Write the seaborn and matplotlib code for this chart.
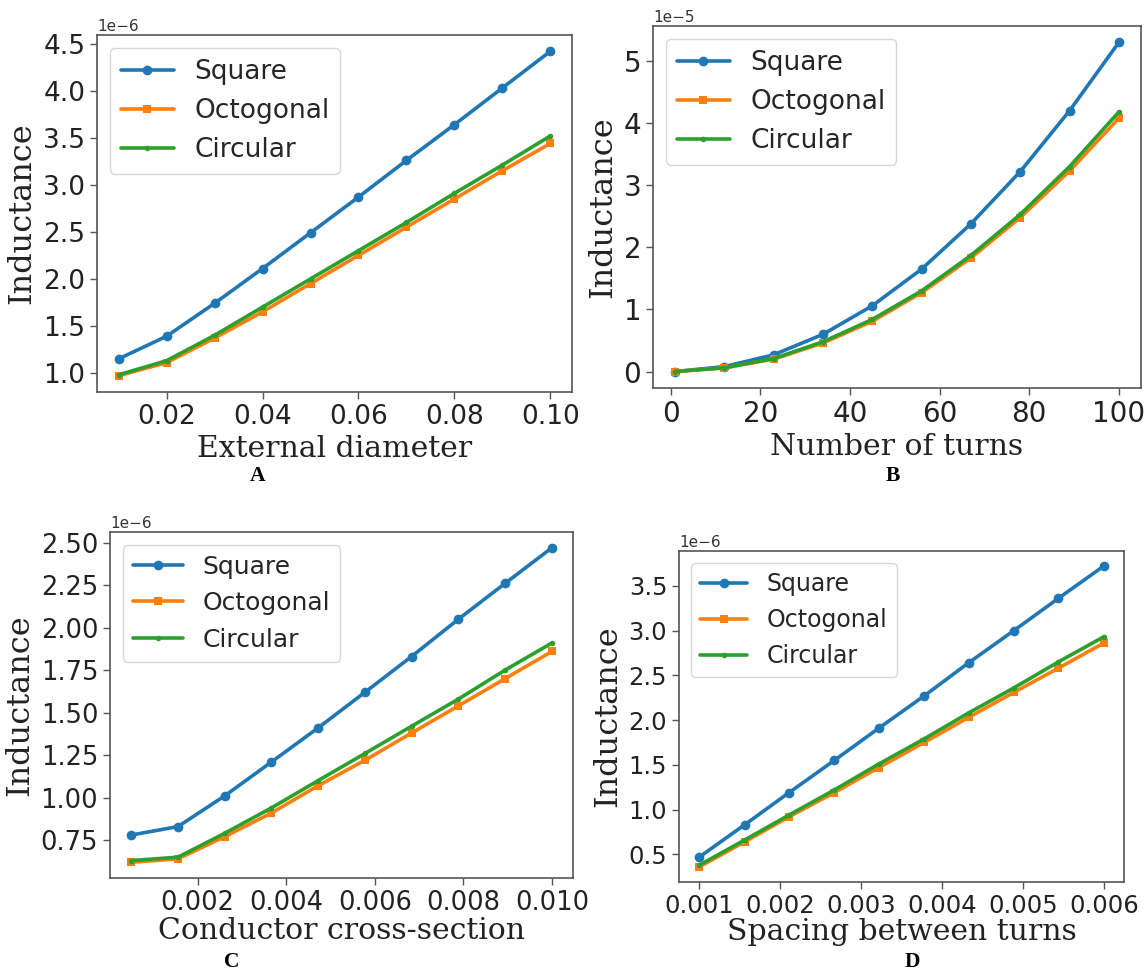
import matplotlib
matplotlib.use("Agg")
import matplotlib.pyplot as plt
from matplotlib.ticker import MultipleLocator
import seaborn as sns
import numpy as np

# ---------------- data (inductance in units of the offset) ----------------
series_names = ["Square", "Octogonal", "Circular"]

# Panel A: external diameter
a_x = [0.01, 0.02, 0.03, 0.04, 0.05, 0.06, 0.07, 0.08, 0.09, 0.10]
a_square = [1.15, 1.39, 1.74, 2.11, 2.49, 2.87, 3.26, 3.64, 4.03, 4.42]
a_octo = [0.97, 1.11, 1.37, 1.65, 1.95, 2.25, 2.55, 2.85, 3.15, 3.44]
a_circ = [0.98, 1.13, 1.40, 1.70, 2.00, 2.30, 2.60, 2.91, 3.21, 3.52]
a_scale = 1e-6

# Panel B: number of turns
b_x = [1, 12, 23, 34, 45, 56, 67, 78, 89, 100]
b_square = [0.00, 0.08, 0.27, 0.60, 1.06, 1.65, 2.38, 3.22, 4.20, 5.30]
b_octo = [0.00, 0.06, 0.20, 0.46, 0.81, 1.27, 1.83, 2.48, 3.23, 4.08]
b_circ = [0.00, 0.06, 0.21, 0.48, 0.84, 1.30, 1.87, 2.53, 3.30, 4.18]
b_scale = 1e-5

# Panel C: conductor cross-section
c_x = [0.0005, 0.00156, 0.00261, 0.00367, 0.00472, 0.00578, 0.00683, 0.00789, 0.00894, 0.0100]
c_square = [0.78, 0.83, 1.01, 1.21, 1.41, 1.62, 1.83, 2.05, 2.26, 2.47]
c_octo = [0.62, 0.64, 0.77, 0.91, 1.07, 1.22, 1.38, 1.54, 1.70, 1.86]
c_circ = [0.63, 0.65, 0.79, 0.94, 1.10, 1.26, 1.42, 1.58, 1.75, 1.91]
c_scale = 1e-6

# Panel D: spacing between turns
d_x = [0.0010, 0.00156, 0.00211, 0.00267, 0.00322, 0.00378, 0.00433, 0.00489, 0.00544, 0.0060]
d_square = [0.47, 0.83, 1.19, 1.55, 1.91, 2.27, 2.64, 3.00, 3.36, 3.72]
d_octo = [0.36, 0.64, 0.92, 1.19, 1.47, 1.75, 2.03, 2.31, 2.58, 2.86]
d_circ = [0.38, 0.66, 0.94, 1.22, 1.51, 1.79, 2.08, 2.36, 2.65, 2.93]
d_scale = 1e-6

x_labels = ["External diameter", "Number of turns", "Conductor cross-section", "Spacing between turns"]
panel_letters = ["A", "B", "C", "D"]

# tick steps (x step, y step in offset units)
x_steps = [0.02, 20, 0.002, 0.001]
y_steps = [0.5, 1.0, 0.25, 0.5]

# ---------------- style ----------------
sns.set_theme(style="ticks")
plt.rcParams["font.family"] = ["DejaVu Sans"]
plt.rcParams["axes.edgecolor"] = "#555555"
plt.rcParams["xtick.color"] = "#555555"
plt.rcParams["ytick.color"] = "#555555"
plt.rcParams["xtick.labelcolor"] = "#222222"
plt.rcParams["ytick.labelcolor"] = "#222222"

colors = ["#1f77b4", "#ff7f0e", "#2ca02c"]
markers = ["o", "s", "."]
msizes = [7, 6, 8]

fig = plt.figure(figsize=(11.47, 9.72), dpi=100)

positions = [
    [97 / 1147, 1 - 392 / 972, (572 - 97) / 1147, (392 - 35) / 972],
    [653 / 1147, 1 - 388 / 972, (1141 - 653) / 1147, (388 - 26) / 972],
    [110 / 1147, 1 - 878 / 972, (573 - 110) / 1147, (878 - 532) / 972],
    [679 / 1147, 1 - 882 / 972, (1124 - 679) / 1147, (882 - 551) / 972],
]

panels = [
    (a_x, [a_square, a_octo, a_circ], a_scale, 19, 19),
    (b_x, [b_square, b_octo, b_circ], b_scale, 20, 19),
    (c_x, [c_square, c_octo, c_circ], c_scale, 18.5, 18),
    (d_x, [d_square, d_octo, d_circ], d_scale, 17.5, 17),
]

label_pos = [(258, 476), (893, 476), (232, 962), (912, 962)]
xlabel_pads = [4, 4, 1, 0]

for i, (xs, ys_list, scale, tick_fs, leg_fs) in enumerate(panels):
    ax = fig.add_axes(positions[i])
    for name, ys, col, mk, ms in zip(series_names, ys_list, colors, markers, msizes):
        yv = np.array(ys) * scale
        sns.lineplot(x=xs, y=yv, ax=ax, color=col, marker=mk, markersize=ms,
                     markeredgewidth=0, linewidth=2.6, label=name)
    ax.xaxis.set_major_locator(MultipleLocator(x_steps[i]))
    ax.yaxis.set_major_locator(MultipleLocator(y_steps[i] * scale))
    ax.tick_params(axis="both", labelsize=tick_fs, length=5, width=1)
    ax.yaxis.get_offset_text().set_fontsize(11)
    ax.yaxis.get_offset_text().set_color("#333333")
    ax.set_xlabel(x_labels[i], family="DejaVu Serif", fontsize=21.5, color="#222222",
                  labelpad=xlabel_pads[i])
    ax.set_ylabel("Inductance", family="DejaVu Serif", fontsize=23, color="#222222")
    for sp in ax.spines.values():
        sp.set_visible(True)
        sp.set_linewidth(1.2)
    ax.legend(loc="upper left", fontsize=leg_fs)
    lx, ly = label_pos[i]
    fig.text(lx / 1147, 1 - ly / 972, panel_letters[i], ha="center", va="center",
             family="Liberation Serif", fontweight="bold", fontsize=15.5, color="black")

fig.savefig("out.png", dpi=100)
